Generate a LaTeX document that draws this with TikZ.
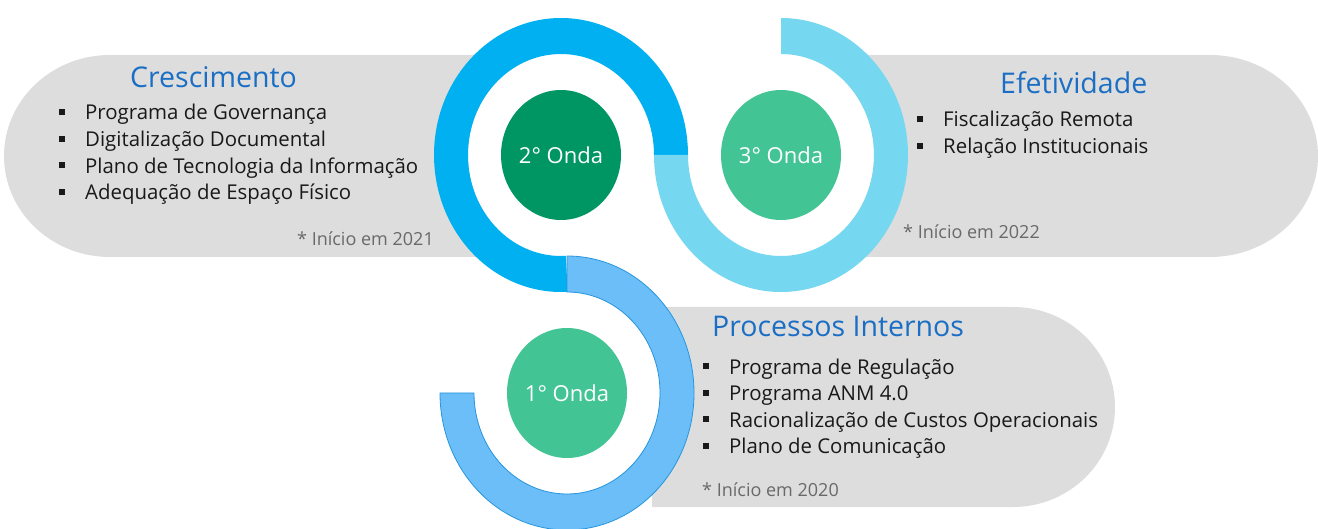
\documentclass[tikz,border=0pt]{standalone}
\usepackage{fontspec}
\setmainfont{Open Sans}
\usetikzlibrary{calc,shapes.geometric}
\definecolor{boxgray}{RGB}{221,221,221}
\definecolor{ringA}{RGB}{0,176,240}
\definecolor{ringB}{RGB}{118,215,240}
\definecolor{ringC}{RGB}{107,190,248}
\definecolor{ringCedge}{RGB}{40,150,220}
\definecolor{greenD}{RGB}{0,150,100}
\definecolor{greenL}{RGB}{67,196,148}
\definecolor{titleblue}{RGB}{26,110,196}
\definecolor{notegray}{RGB}{105,105,105}
\definecolor{textblack}{RGB}{25,25,25}
\newcommand{\sqbul}{\makebox[26pt][l]{\raisebox{5pt}{\rule{5.5pt}{6pt}}}}
\tikzset{
  box/.style={fill=boxgray},
  title/.style={inner sep=0pt, anchor=base west, text=titleblue, font=\fontsize{28.5}{34}\selectfont},
  items/.style={inner sep=0pt, anchor=base west, align=left, text=textblack, font=\fontsize{20.4}{26.6}\selectfont},
  note/.style={inner sep=0pt, anchor=base west, text=notegray, font=\fontsize{18}{22}\selectfont},
  wave/.style={ellipse, inner sep=0pt, minimum width=120pt, minimum height=130pt, text=white, font=\fontsize{22}{26}\selectfont},
  hole/.style={fill=white}
}
\begin{document}
\begin{tikzpicture}[x=1pt,y=1pt]
\useasboundingbox (0,0) rectangle (1318,528);
% gray boxes
\path[box] (490,271) -- (110,271) arc[start angle=270,end angle=90,x radius=106,y radius=101] -- (490,473) -- cycle;
\path[box] (850,271) -- (1210,271) arc[start angle=-90,end angle=90,x radius=108,y radius=101] -- (850,473) -- cycle;
\path[box] (652,21) -- (1013,21) arc[start angle=-90,end angle=90,x radius=102,y radius=100] -- (652,221) -- cycle;
% ring centres
\coordinate (c2) at (561,373);
\coordinate (c3) at (781,373);
\coordinate (c1) at (567,135);
% white interiors
\path[hole] (c2) ellipse [x radius=93, y radius=101];
\path[hole] (c3) ellipse [x radius=93, y radius=101];
\path[hole] (c1) ellipse [x radius=93, y radius=101];
% rings
\path[fill=ringA] ($(c2)+(0:127 and 137)$) arc[start angle=0,end angle=273,x radius=127,y radius=137]
  -- ($(c2)+(273:93 and 101)$) arc[start angle=273,end angle=0,x radius=93,y radius=101] -- cycle;
\path[fill=ringB] ($(c3)+(90:127 and 137)$) arc[start angle=90,end angle=-180,x radius=127,y radius=137]
  -- ($(c3)+(180:93 and 101)$) arc[start angle=-180,end angle=90,x radius=93,y radius=101] -- cycle;
\path[fill=ringC, draw=ringCedge, line width=0.8pt] ($(c1)+(90:127 and 137)$) arc[start angle=90,end angle=-180,x radius=127,y radius=137]
  -- ($(c1)+(180:93 and 101)$) arc[start angle=-180,end angle=90,x radius=93,y radius=101] -- cycle;
% wave discs
\node[wave, fill=greenD] (w2) at (c2) {2° Onda};
\node[wave, fill=greenL] (w3) at (c3) {3° Onda};
\node[wave, fill=greenL] (w1) at (c1) {1° Onda};
% left box texts
\node[title] (t2) at (130,440) {Crescimento};
\node[items] (l2) at (59,328.2) {\sqbul Programa de Governança\\\sqbul Digitalização Documental\\\sqbul Plano de Tecnologia da Informação\\\sqbul Adequação de Espaço Físico};
\node[note] (n2) at (297,282) {* Início em 2021};
% right box texts
\node[title] (t3) at (1000,434) {Efetividade};
\node[items] (l3) at (917,374.4) {\sqbul Fiscalização Remota\\\sqbul Relação Institucionais};
\node[note] (n3) at (903,289) {* Início em 2022};
% bottom box texts
\node[title] (t1) at (712,191) {Processos Internos};
\node[items] (l1) at (703,74.2) {\sqbul Programa de Regulação\\\sqbul Programa ANM 4.0\\\sqbul Racionalização de Custos Operacionais\\\sqbul Plano de Comunicação};
\node[note] (n1) at (702,32) {* Início em 2020};
\end{tikzpicture}
\end{document}
